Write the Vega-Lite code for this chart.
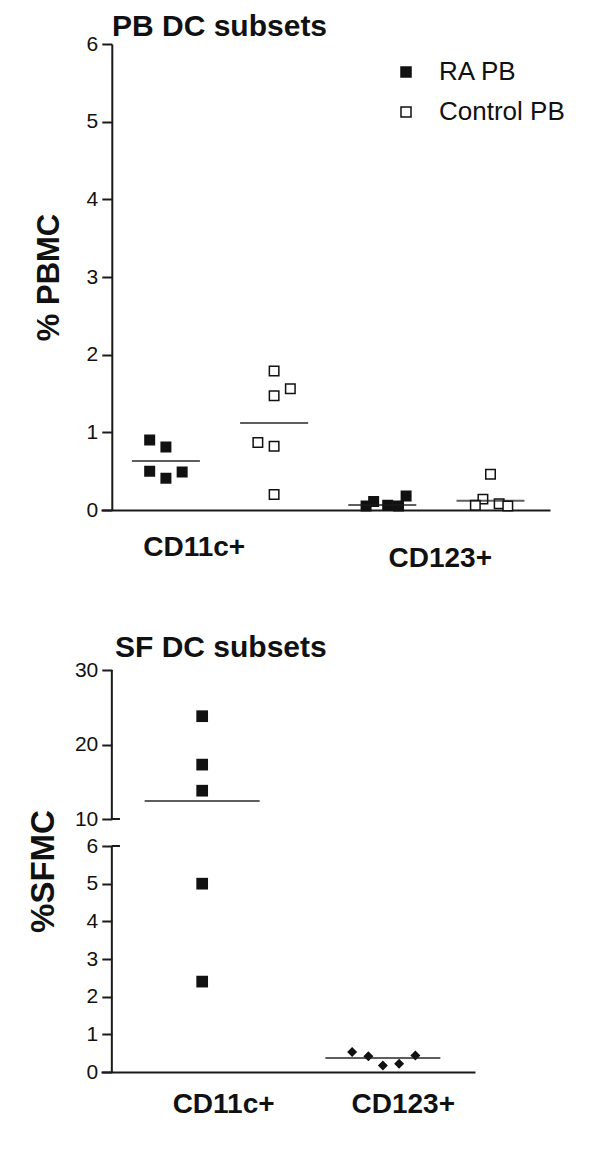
{
  "$schema": "https://vega.github.io/schema/vega-lite/v6.json",
  "autosize": {"type": "pad"},
  "padding": {"left": 27, "top": 12, "right": 0, "bottom": 0},
  "background": "white",
  "config": {
    "font": "Liberation Sans",
    "view": {"stroke": null},
    "axis": {
      "grid": false,
      "domainColor": "#1a1a1a",
      "domainWidth": 2,
      "tickColor": "#1a1a1a",
      "tickWidth": 2,
      "labelColor": "#111111",
      "titleColor": "#111111",
      "labelFont": "Liberation Sans",
      "titleFont": "Liberation Sans"
    }
  },
  "datasets": {
    "pb_points": [
      {"subset": "CD11c+", "group": "RA PB", "x": 0.85, "value": 0.90},
      {"subset": "CD11c+", "group": "RA PB", "x": 1.0, "value": 0.81},
      {"subset": "CD11c+", "group": "RA PB", "x": 0.85, "value": 0.50},
      {"subset": "CD11c+", "group": "RA PB", "x": 1.0, "value": 0.41},
      {"subset": "CD11c+", "group": "RA PB", "x": 1.15, "value": 0.49},
      {"subset": "CD11c+", "group": "Control PB", "x": 2.0, "value": 1.79},
      {"subset": "CD11c+", "group": "Control PB", "x": 2.15, "value": 1.56},
      {"subset": "CD11c+", "group": "Control PB", "x": 2.0, "value": 1.47},
      {"subset": "CD11c+", "group": "Control PB", "x": 1.85, "value": 0.87},
      {"subset": "CD11c+", "group": "Control PB", "x": 2.0, "value": 0.82},
      {"subset": "CD11c+", "group": "Control PB", "x": 2.0, "value": 0.20},
      {"subset": "CD123+", "group": "RA PB", "x": 2.85, "value": 0.05},
      {"subset": "CD123+", "group": "RA PB", "x": 2.92, "value": 0.11},
      {"subset": "CD123+", "group": "RA PB", "x": 3.05, "value": 0.06},
      {"subset": "CD123+", "group": "RA PB", "x": 3.15, "value": 0.05},
      {"subset": "CD123+", "group": "RA PB", "x": 3.22, "value": 0.18},
      {"subset": "CD123+", "group": "Control PB", "x": 4.0, "value": 0.46},
      {"subset": "CD123+", "group": "Control PB", "x": 3.93, "value": 0.14},
      {"subset": "CD123+", "group": "Control PB", "x": 3.86, "value": 0.06},
      {"subset": "CD123+", "group": "Control PB", "x": 4.08, "value": 0.08},
      {"subset": "CD123+", "group": "Control PB", "x": 4.16, "value": 0.05}
    ],
    "pb_means": [
      {"subset": "CD11c+", "group": "RA PB", "x": 1.0, "value": 0.63},
      {"subset": "CD11c+", "group": "Control PB", "x": 2.0, "value": 1.12},
      {"subset": "CD123+", "group": "RA PB", "x": 3.0, "value": 0.065},
      {"subset": "CD123+", "group": "Control PB", "x": 4.0, "value": 0.12}
    ],
    "sf_points": [
      {"subset": "CD11c+", "x": 1.0, "value": 23.8},
      {"subset": "CD11c+", "x": 1.0, "value": 17.3},
      {"subset": "CD11c+", "x": 1.0, "value": 13.8},
      {"subset": "CD11c+", "x": 1.0, "value": 5.0},
      {"subset": "CD11c+", "x": 1.0, "value": 2.4},
      {"subset": "CD123+", "x": 1.83, "value": 0.53},
      {"subset": "CD123+", "x": 1.92, "value": 0.42},
      {"subset": "CD123+", "x": 2.0, "value": 0.17},
      {"subset": "CD123+", "x": 2.09, "value": 0.22},
      {"subset": "CD123+", "x": 2.18, "value": 0.44}
    ],
    "sf_means": [
      {"subset": "CD11c+", "x": 1.0, "value": 12.4},
      {"subset": "CD123+", "x": 2.0, "value": 0.37}
    ],
    "sf_axis_segments": [
      {"x": 0.5, "value": 0, "value2": 6},
      {"x": 0.5, "value": 10, "value2": 30}
    ],
    "sf_breaks": [
      {"x": 0.5, "x2": 0.545, "value": 6},
      {"x": 0.5, "x2": 0.545, "value": 10}
    ]
  },
  "bounds": "flush",
  "spacing": 160,
  "resolve": {"legend": {"fill": "independent"}},
  "vconcat": [
    {
      "width": 449,
      "height": 466,
      "title": {"text": "PB DC subsets", "anchor": "start", "frame": "group", "fontSize": 30, "fontWeight": "bold", "dx": 11, "dy": 42, "offset": 9, "baseline": "alphabetic", "color": "#111111", "font": "Liberation Sans"},
      "encoding": {
        "x": {
          "field": "x", "type": "quantitative",
          "scale": {"domain": [0.4, 4.55], "nice": false, "zero": false},
          "axis": {
            "title": null, "values": [1.257, 3.531],
            "labelExpr": "datum.value < 2 ? 'CD11c+' : 'CD123+'",
            "ticks": false, "tickSize": 0,
            "labelFontSize": 28, "labelFontWeight": "bold", "labelBaseline": "middle",
            "labelPadding": {"condition": {"test": "datum.value > 2", "value": 48}, "value": 37},
            "labelFlush": false, "labelOverlap": false
          }
        },
        "y": {
          "field": "value", "type": "quantitative",
          "scale": {"domain": [0, 6], "nice": false, "zero": false},
          "axis": {
            "title": "% PBMC", "values": [0, 1, 2, 3, 4, 5, 6], "offset": -10.8,
            "tickSize": 10, "labelFontSize": 21, "labelPadding": 4,
            "titleFontSize": 31, "titleFontWeight": "bold", "titlePadding": 21
          }
        }
      },
      "layer": [
        {
          "data": {"name": "pb_points"},
          "mark": {"type": "point", "shape": "square", "filled": true, "size": 90, "stroke": "#111111", "strokeWidth": 1.5, "opacity": 1},
          "encoding": {
            "fill": {
              "field": "group", "type": "nominal",
              "scale": {"domain": ["RA PB", "Control PB"], "range": ["#111111", "#ffffff"]},
              "legend": {
                "title": null, "orient": "none", "legendX": 292, "legendY": 15,
                "symbolType": "square", "symbolSize": 100, "symbolStrokeColor": "#111111", "symbolStrokeWidth": 1.5,
                "labelFontSize": 26, "labelOffset": 20, "rowPadding": 14, "labelColor": "#111111",
                "padding": 0, "labelFont": "Liberation Sans"
              }
            }
          }
        },
        {
          "data": {"name": "pb_means"},
          "mark": {"type": "tick", "orient": "horizontal", "size": 68, "thickness": 2, "color": "#1a1a1a"},
          "encoding": {}
        }
      ]
    },
    {
      "width": 374,
      "height": 402,
      "title": {"text": "SF DC subsets", "anchor": "start", "frame": "group", "fontSize": 30, "fontWeight": "bold", "dx": 14, "dy": 40, "offset": 12, "baseline": "alphabetic", "color": "#111111", "font": "Liberation Sans"},
      "encoding": {
        "x": {
          "field": "x", "type": "quantitative",
          "scale": {"domain": [0.44, 2.51], "nice": false, "zero": false},
          "axis": {
            "title": null, "values": [1.116, 2.11],
            "labelExpr": "datum.value < 1.5 ? 'CD11c+' : 'CD123+'",
            "ticks": false, "tickSize": 0,
            "labelFontSize": 28, "labelFontWeight": "bold", "labelBaseline": "middle",
            "labelPadding": 32, "labelFlush": false, "labelOverlap": false
          }
        },
        "y": {
          "field": "value", "type": "quantitative",
          "scale": {"domain": [0, 6, 10, 30], "range": [402, 176, 149, 0], "nice": false, "zero": false},
          "axis": {
            "title": "%SFMC", "values": [0, 1, 2, 3, 4, 5, 6, 10, 20, 30], "offset": -10.8, "domain": false,
            "tickSize": 10, "labelFontSize": 21, "labelPadding": 4,
            "titleFontSize": 33, "titleFontWeight": "bold", "titlePadding": 14
          }
        }
      },
      "layer": [
        {
          "data": {"name": "sf_axis_segments"},
          "mark": {"type": "rule", "color": "#1a1a1a", "strokeWidth": 2},
          "encoding": {"y2": {"field": "value2"}}
        },
        {
          "data": {"name": "sf_breaks"},
          "mark": {"type": "rule", "color": "#1a1a1a", "strokeWidth": 2},
          "encoding": {"x2": {"field": "x2"}}
        },
        {
          "data": {"name": "sf_points"},
          "mark": {"type": "point", "filled": true, "color": "#111111", "opacity": 1},
          "encoding": {
            "shape": {"field": "subset", "type": "nominal", "scale": {"domain": ["CD11c+", "CD123+"], "range": ["square", "diamond"]}, "legend": null},
            "size": {"field": "subset", "type": "nominal", "scale": {"domain": ["CD11c+", "CD123+"], "range": [137, 100]}, "legend": null}
          }
        },
        {
          "data": {"name": "sf_means"},
          "mark": {"type": "tick", "orient": "horizontal", "size": 115, "thickness": 2, "color": "#1a1a1a"},
          "encoding": {}
        }
      ]
    }
  ]
}
